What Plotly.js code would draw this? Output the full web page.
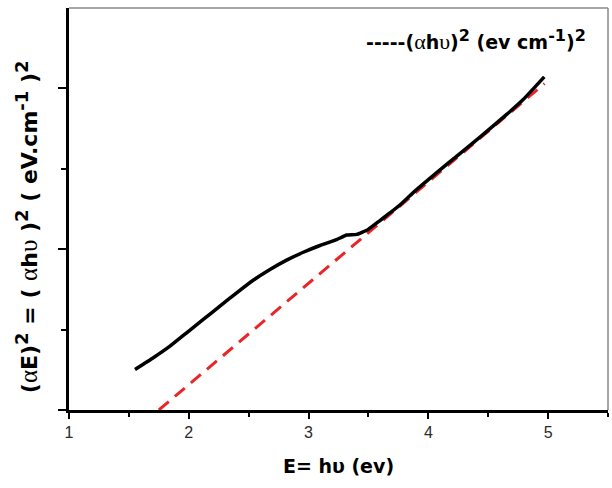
<!DOCTYPE html>
<html>
<head>
<meta charset="utf-8">
<script src="https://cdn.plot.ly/plotly-3.0.1.min.js"></script>
<style>
  html, body { margin: 0; padding: 0; background: #fff; }
  #chart { width: 612px; height: 488px; }
</style>
</head>
<body>
<div id="chart"></div>
<script>
// Measured (αhυ)^2 curve versus photon energy
const energy = [1.551, 1.704, 1.843, 1.982, 2.121, 2.260, 2.400, 2.538, 2.678, 2.817,
                2.956, 3.095, 3.235, 3.318, 3.402, 3.498, 3.596, 3.652, 3.763, 3.874,
                4.153, 4.431, 4.654, 4.792, 4.968];
const absorption = [0.252, 0.325, 0.397, 0.480, 0.563, 0.646, 0.729, 0.807, 0.874, 0.932,
                    0.981, 1.023, 1.060, 1.088, 1.092, 1.123, 1.178, 1.210, 1.275, 1.352,
                    1.527, 1.697, 1.838, 1.931, 2.072];

// Linear extrapolation of the absorption edge down to the energy axis
const fitEnergy = [1.75, 4.97];
const fitValue = [0.0, 2.03];

const xTicks = [1, 2, 3, 4, 5];
const xTickText = ['1', '2', '3', '4', '5'];

const greek = 'font-family:Liberation Serif;font-weight:normal';
const sup = (s, px) => '<sup><span style="font-size:' + px + 'px">' + s + '</span></sup>';
const alpha = (px) => '<span style="' + greek + ';font-size:' + px + 'px">α</span>';
const upsilon = (px) => '<span style="' + greek + ';font-size:' + px + 'px">υ</span>';

const yTitle = '<b>(' + alpha(25) + 'E)' + sup('2', 18) + ' = ( ' + alpha(25) + 'h' + upsilon(25) + ' )' + sup('2', 18) +
               ' ( eV.cm' + sup('-1', 18) + ' )' + sup('2', 18) + '</b>';
const fitLabel = '<b>-----(' + alpha(22) + 'h' + upsilon(22) + ')' + sup('2', 16) +
                 ' (ev cm' + sup('-1', 16) + ')' + sup('2', 16) + '</b>';

const traces = [
  {
    x: fitEnergy, y: fitValue, type: 'scatter', mode: 'lines',
    line: { color: '#e8262a', width: 3, dash: '13px,8px' },
    hoverinfo: 'skip'
  },
  {
    x: energy, y: absorption, type: 'scatter', mode: 'lines',
    line: { color: '#000000', width: 3.5, shape: 'spline', smoothing: 0.4 },
    hoverinfo: 'skip'
  }
];

const layout = {
  width: 612, height: 488,
  margin: { l: 69, r: 4, t: 8, b: 77.5 },
  paper_bgcolor: '#ffffff', plot_bgcolor: '#ffffff',
  showlegend: false,
  font: { family: 'DejaVu Sans, sans-serif', color: '#000' },
  xaxis: {
    range: [1, 5.5], showgrid: false, zeroline: false,
    showline: true, linecolor: '#000', linewidth: 3,
    ticks: 'outside', ticklen: 6, tickwidth: 2, tickcolor: '#000',
    tickvals: xTicks, ticktext: xTickText,
    tickfont: { family: 'Liberation Sans, Arial, sans-serif', size: 16, color: '#2a2a2a' },
    minor: { tickvals: [1.5, 2.5, 3.5, 4.5, 5.5], ticks: 'outside', ticklen: 4, tickwidth: 2, tickcolor: '#000' },
    title: { text: '<b>E= hυ (ev)</b>', font: { family: 'DejaVu Sans, sans-serif', size: 19, color: '#000' }, standoff: 20 }
  },
  yaxis: {
    range: [0, 2.5], showgrid: false, zeroline: false,
    showline: true, linecolor: '#000', linewidth: 3,
    ticks: 'outside', ticklen: 8, tickwidth: 2, tickcolor: '#000',
    tickvals: [0, 1, 2], showticklabels: false,
    minor: { tickvals: [0.5, 1.5], ticks: 'outside', ticklen: 5, tickwidth: 2, tickcolor: '#000' }
  },
  shapes: [
    { type: 'line', xref: 'paper', yref: 'paper', x0: 0, x1: 1, y0: 1, y1: 1,
      line: { color: '#8a8a8a', width: 1.5 } },
    { type: 'line', xref: 'paper', yref: 'paper', x0: 1, x1: 1, y0: 0, y1: 1,
      line: { color: '#8a8a8a', width: 1.5 } }
  ],
  annotations: [
    {
      xref: 'paper', yref: 'paper', x: -0.08, y: 0.457,
      xanchor: 'center', yanchor: 'middle', textangle: -90, showarrow: false,
      text: yTitle,
      font: { family: 'DejaVu Sans, sans-serif', size: 22, color: '#000' }
    },
    {
      xref: 'paper', yref: 'paper', x: 0.963, y: 0.92,
      xanchor: 'right', yanchor: 'middle', showarrow: false,
      text: fitLabel,
      font: { family: 'DejaVu Sans, sans-serif', size: 19, color: '#000' }
    }
  ]
};

Plotly.newPlot('chart', traces, layout, { staticPlot: true, displayModeBar: false });
</script>
</body>
</html>
